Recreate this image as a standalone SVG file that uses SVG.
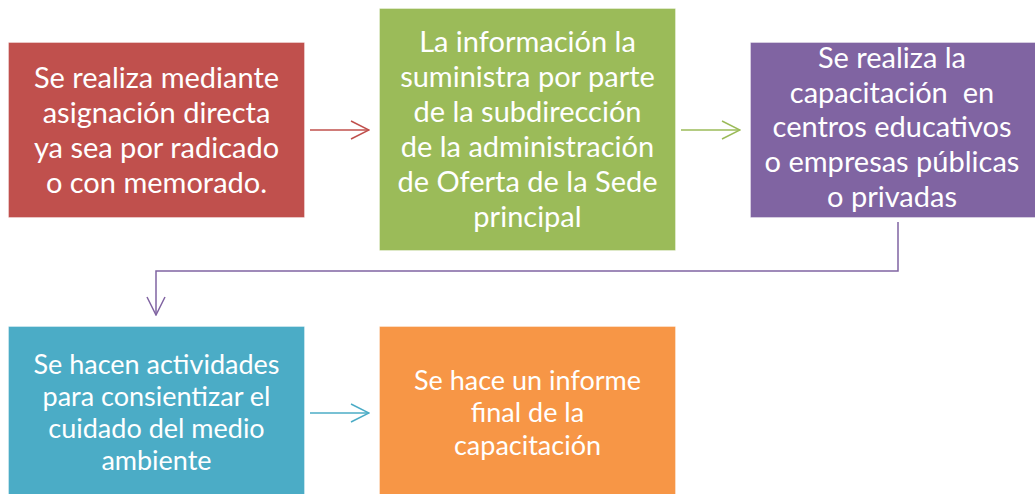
<svg xmlns="http://www.w3.org/2000/svg" width="1035" height="494" viewBox="0 0 1035 494">
<defs>
<style>
.box{stroke:#ffffff;stroke-opacity:0.35;stroke-width:1}
.t{font-family:Lato,"Open Sans",sans-serif;font-size:29px;fill:#ffffff;text-anchor:middle}
.s{font-size:27px}
.c{fill:none;stroke-width:1.5}
</style>
<marker id="ar-red" viewBox="0 0 20 20" refX="19" refY="10" markerWidth="20" markerHeight="20" markerUnits="userSpaceOnUse" orient="auto"><path d="M1,1 L19,10 L1,19" fill="none" stroke="#C0504D" stroke-width="1.5"/></marker>
<marker id="ar-green" viewBox="0 0 20 20" refX="19" refY="10" markerWidth="20" markerHeight="20" markerUnits="userSpaceOnUse" orient="auto"><path d="M1,1 L19,10 L1,19" fill="none" stroke="#9BBB59" stroke-width="1.5"/></marker>
<marker id="ar-purple" viewBox="0 0 20 20" refX="19" refY="10" markerWidth="20" markerHeight="20" markerUnits="userSpaceOnUse" orient="auto"><path d="M1,1 L19,10 L1,19" fill="none" stroke="#8064A2" stroke-width="1.5"/></marker>
<marker id="ar-cyan" viewBox="0 0 20 20" refX="19" refY="10" markerWidth="20" markerHeight="20" markerUnits="userSpaceOnUse" orient="auto"><path d="M1,1 L19,10 L1,19" fill="none" stroke="#4BACC6" stroke-width="1.5"/></marker>
</defs>
<rect width="1035" height="494" fill="#ffffff"/>
<g id="connectors">
<path class="c" d="M310,130 H369" stroke="#C0504D" marker-end="url(#ar-red)"/>
<path class="c" d="M681,130 H740" stroke="#9BBB59" marker-end="url(#ar-green)"/>
<path class="c" d="M898,222 V271 H156 V315" stroke="#8064A2" marker-end="url(#ar-purple)"/>
<path class="c" d="M310,413 H369" stroke="#4BACC6" marker-end="url(#ar-cyan)"/>
</g>
<g id="n1">
<rect class="box" x="8.5" y="42.5" width="296" height="175" fill="#C0504D"/>
<text class="t"><tspan x="156.5" y="88">Se realiza mediante</tspan><tspan x="156.5" y="123">asignación directa</tspan><tspan x="156.5" y="158">ya sea por radicado</tspan><tspan x="156.5" y="193">o con memorado.</tspan></text>
</g>
<g id="n2">
<rect class="box" x="379.5" y="8.5" width="296" height="242" fill="#9BBB59"/>
<text class="t"><tspan x="527.5" y="52">La información la</tspan><tspan x="527.5" y="87">suministra por parte</tspan><tspan x="527.5" y="122">de la subdirección</tspan><tspan x="527.5" y="157">de la administración</tspan><tspan x="527.5" y="192">de Oferta de la Sede</tspan><tspan x="527.5" y="227">principal</tspan></text>
</g>
<g id="n3">
<rect class="box" x="750.5" y="42.5" width="290" height="175" fill="#8064A2"/>
<text class="t" xml:space="preserve"><tspan x="892" y="68">Se realiza la</tspan><tspan x="892" y="103">capacitación  en</tspan><tspan x="892" y="137">centros educativos</tspan><tspan x="892" y="172">o empresas públicas</tspan><tspan x="892" y="207">o privadas</tspan></text>
</g>
<g id="n4">
<rect class="box" x="8.5" y="326.5" width="296" height="175" fill="#4BACC6"/>
<text class="t s"><tspan x="156.5" y="374">Se hacen actividades</tspan><tspan x="156.5" y="406">para consientizar el</tspan><tspan x="156.5" y="438">cuidado del medio</tspan><tspan x="156.5" y="470">ambiente</tspan></text>
</g>
<g id="n5">
<rect class="box" x="379.5" y="326.5" width="296" height="175" fill="#F79646"/>
<text class="t s"><tspan x="527.5" y="390">Se hace un informe</tspan><tspan x="527.5" y="422">final de la</tspan><tspan x="527.5" y="455">capacitación</tspan></text>
</g>
</svg>
